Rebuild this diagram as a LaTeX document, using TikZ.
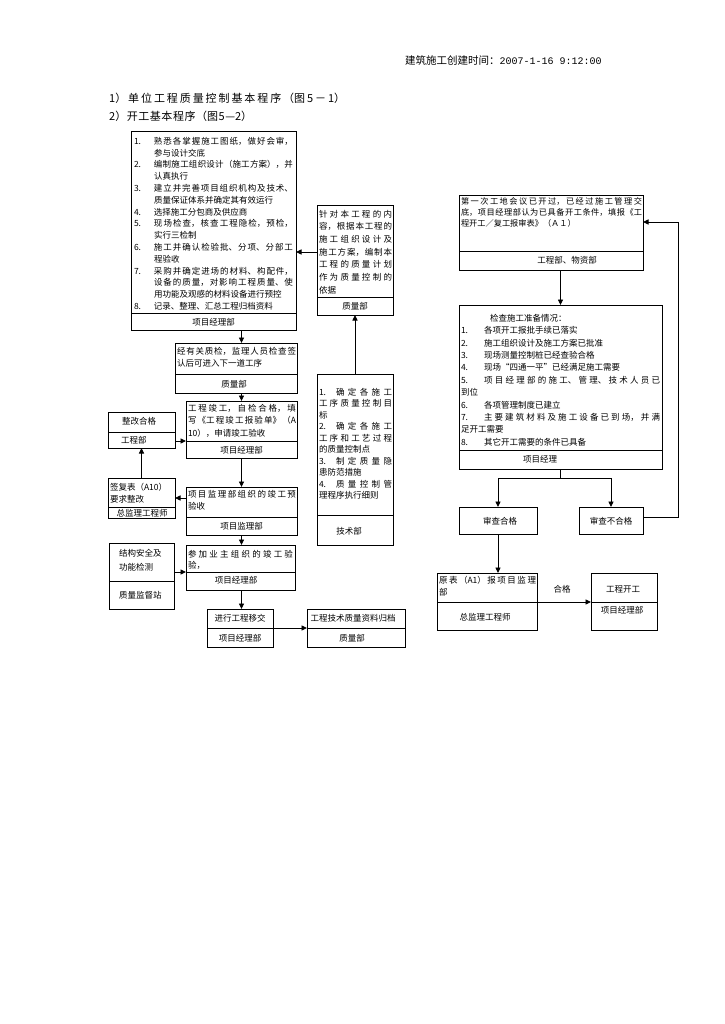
\documentclass[tikz,border=0pt]{standalone}
\usepackage{fontspec}
\setmainfont{Noto Sans CJK SC}
\newfontfamily\digfont{Liberation Mono}
\usetikzlibrary{arrows.meta}
\XeTeXlinebreaklocale "zh"
\XeTeXlinebreakskip=0pt plus 2pt
\hbadness=10000
\hfuzz=20pt
\lineskiplimit=-100pt
\newcommand\fs{\fontsize{8.5pt}{12.7pt}\selectfont\lineskiplimit=-100pt}
\newcommand\fsa{\fontsize{8.5pt}{11.8pt}\selectfont\lineskiplimit=-100pt}
\newcommand\fsc{\fontsize{8.5pt}{11.5pt}\selectfont\lineskiplimit=-100pt}
\newcommand\nb[1]{\makebox[20pt][l]{#1}}
\newcommand\nc[1]{\makebox[23pt][l]{#1}}
\tikzset{
  box/.style={draw, line width=0.8pt, inner sep=0pt, outer sep=0pt, anchor=north west},
  tx/.style={inner sep=0pt, outer sep=0pt, anchor=north west, align=justify, font=\fs},
  lab/.style={inner sep=0pt, font=\fs},
  hdr/.style={inner sep=0pt, anchor=north west, align=justify, font=\fontsize{11pt}{13pt}\selectfont},
  ln/.style={line width=0.8pt},
  arr/.style={line width=0.9pt, -{Triangle[length=5.5pt,width=5pt]}},
}
\begin{document}
\begin{tikzpicture}[x=1pt,y=-1pt]
\fill[white] (0,0) rectangle (724,1024);
\useasboundingbox (0,0) rectangle (724,1024);

% header
\node[anchor=west, inner sep=0pt, font=\fontsize{10.5pt}{12pt}\selectfont] (hd) at (405,60) {建筑施工创建时间：{\digfont\fontsize{10pt}{12pt}\selectfont 2007-1-16 9:12:00}};
\node[hdr, text width=236pt] (t1) at (109,92.5) {1）单位工程质量控制基本程序（图5－1）\linebreak\mbox{}};
\node[hdr, text width=143pt] (t2) at (109,110.5) {2）开工基本程序（图5—2）\linebreak\mbox{}};

% ---------- left chart ----------
% A
\node[box, minimum width=165pt, minimum height=199pt] (A) at (131,131) {};
\draw[ln] (A.west |- 0,313) -- (A.east |- 0,313);
\node[tx, text width=159pt, font=\fsa] (At) at (134,137) {%
\nb{1.}熟悉各掌握施工图纸，做好会审，\linebreak
\hspace*{20pt}参与设计交底\newline
\nb{2.}编制施工组织设计（施工方案），并\linebreak
\hspace*{20pt}认真执行\newline
\nb{3.}建立并完善项目组织机构及技术、\linebreak
\hspace*{20pt}质量保证体系并确定其有效运行\newline
\nb{4.}选择施工分包商及供应商\newline
\nb{5.}现场检查，核查工程隐检，预检，\linebreak
\hspace*{20pt}实行三检制\newline
\nb{6.}施工并确认检验批、分项、分部工\linebreak
\hspace*{20pt}程验收\newline
\nb{7.}采购并确定进场的材料、构配件，\linebreak
\hspace*{20pt}设备的质量，对影响工程质量、使\linebreak
\hspace*{20pt}用功能及观感的材料设备进行预控\newline
\nb{8.}记录、整理、汇总工程归档资料};
\node[lab] (Al) at (213.5,322) {项目经理部};

% B
\node[box, minimum width=76pt, minimum height=110pt] (B) at (317,205) {};
\draw[ln] (B.west |- 0,297) -- (B.east |- 0,297);
\node[tx, text width=73pt] (Bt) at (319,210) {针对本工程的内\linebreak 容，根据本工程的\linebreak 施工组织设计及\linebreak 施工方案，编制本\linebreak 工程的质量计划\linebreak 作为质量控制的\linebreak 依据};
\node[lab] (Bl) at (355,306) {质量部};

% C
\node[box, minimum width=76pt, minimum height=171pt] (C) at (317,374) {};
\draw[ln] (C.west |- 0,515) -- (C.east |- 0,515);
\node[tx, text width=73pt, font=\fsc] (Ct) at (319,388) {%
1.\hspace{10pt}确定各施工\linebreak
工序质量控制目\linebreak
标\newline
2.\hspace{10pt}确定各施工\linebreak
工序和工艺过程\linebreak
的质量控制点\newline
3.\hspace{10pt}制定质量隐\linebreak
患防范措施\newline
4.\hspace{10pt}质量控制管\linebreak
理程序执行细则};
\node[lab] (Cl) at (349,531) {技术部};

% D
\node[box, minimum width=122pt, minimum height=50pt] (D) at (175,343) {};
\draw[ln] (D.west |- 0,374) -- (D.east |- 0,374);
\node[tx, text width=119pt] (Dt) at (177,347) {经有关质检，监理人员检查签\linebreak 认后可进入下一道工序};
\node[lab] (Dl) at (234,384) {质量部};

% E
\node[box, minimum width=111pt, minimum height=57pt] (E) at (186,401) {};
\draw[ln] (E.west |- 0,441) -- (E.east |- 0,441);
\node[tx, text width=108pt] (Et) at (188,404) {工程竣工，自检合格，填\linebreak 写《工程竣工报验单》（A\linebreak 10），申请竣工验收};
\node[lab] (El) at (241.5,450) {项目经理部};

% F
\node[box, minimum width=67pt, minimum height=36pt] (F) at (108,412) {};
\draw[ln] (F.west |- 0,432) -- (F.east |- 0,432);
\node[lab, anchor=west] (Ft) at (122,421) {整改合格};
\node[lab, anchor=west] (Fl) at (121,440) {工程部};

% G
\node[box, minimum width=67pt, minimum height=40pt] (G) at (108,478) {};
\draw[ln] (G.west |- 0,507) -- (G.east |- 0,507);
\node[tx, text width=64pt, font=\fontsize{8.5pt}{12pt}\selectfont] (Gt) at (110,483) {签复表（A10）\newline 要求整改};
\node[lab] (Gl) at (142,513) {总监理工程师};

% H
\node[box, minimum width=111pt, minimum height=48pt] (H) at (186,487) {};
\draw[ln] (H.west |- 0,517) -- (H.east |- 0,517);
\node[tx, text width=108pt] (Ht) at (188,490) {项目监理部组织的竣工预\linebreak 验收};
\node[lab] (Hl) at (241.5,526) {项目监理部};

% I
\node[box, minimum width=109pt, minimum height=45pt] (I) at (186,545) {};
\draw[ln] (I.west |- 0,572) -- (I.east |- 0,572);
\node[tx, text width=105pt, font=\fsc] (It) at (188,550) {参加业主组织的竣工验\linebreak 验，};
\node[lab] (Il) at (236,580) {项目经理部};

% J
\node[box, minimum width=65pt, minimum height=66pt] (J) at (109,543) {};
\draw[ln] (J.west |- 0,581) -- (J.east |- 0,581);
\node[tx, text width=55pt, font=\fontsize{8.5pt}{14pt}\selectfont] (Jt) at (119,549) {结构安全及\newline 功能检测};
\node[lab, anchor=west] (Jl) at (119,595) {质量监督站};

% K
\node[box, minimum width=66pt, minimum height=38pt] (K) at (207,609) {};
\draw[ln] (K.west |- 0,628) -- (K.east |- 0,628);
\node[lab] (Kt) at (240,618) {进行工程移交};
\node[lab] (Kl) at (240,638) {项目经理部};

% L
\node[box, minimum width=98pt, minimum height=38pt] (L) at (307,609) {};
\draw[ln] (L.west |- 0,628) -- (L.east |- 0,628);
\node[lab] (Lt) at (353,618) {工程技术质量资料归档};
\node[lab] (Ll) at (352,638) {质量部};

% left connectors
\draw[arr] (B.west |- 0,252) -- (A.east |- 0,252);
\draw[arr] (C.north) -- (B.south);
\draw[arr] (A.south -| E.north) -- (D.north -| E.north);
\draw[arr] (D.south -| E.north) -- (E.north);
\draw[arr] (F.east |- 0,441) -- (E.west |- 0,441);
\draw[arr] (G.north) -- (G.north |- F.south);
\draw[arr] (E.south) -- (H.north);
\draw[arr] (H.west |- G.east) -- (G.east);
\draw[arr] (H.south) -- (H.south |- I.north);
\draw[arr] (J.east |- 0,572) -- (I.west |- 0,572);
\draw[arr] (I.south -| H.south) -- (K.north -| H.south);
\draw[arr] (K.east) -- (L.west);

% ---------- right chart ----------
% M
\node[box, minimum width=184pt, minimum height=75pt] (M) at (459,195) {};
\draw[ln] (M.west |- 0,251) -- (M.east |- 0,251);
\node[tx, text width=181pt, font=\fontsize{8.2pt}{10.8pt}\selectfont] (Mt) at (461,198) {第一次工地会议已开过，已经过施工管理交\linebreak 底，项目经理部认为已具备开工条件，填报《工\linebreak 程开工／复工报审表》（Ａ１）};
\node[lab] (Ml) at (567,260) {工程部、物资部};

% N
\node[box, minimum width=203pt, minimum height=164pt] (N) at (459,305) {};
\draw[ln] (N.west |- 0,450) -- (N.east |- 0,450);
\node[tx, text width=199pt, font=\fontsize{8.5pt}{12.4pt}\selectfont] (Nt) at (461,314) {%
\hspace*{29pt}检查施工准备情况：\newline
\nc{1.}各项开工报批手续已落实\newline
\nc{2.}施工组织设计及施工方案已批准\newline
\nc{3.}现场测量控制桩已经查验合格\newline
\nc{4.}现场“四通一平”已经满足施工需要\newline
\nc{5.}项目经理部的施工、管理、技术人员已\linebreak
到位\newline
\nc{6.}各项管理制度已建立\newline
\nc{7.}主要建筑材料及施工设备已到场，并满\linebreak
足开工需要\newline
\nc{8.}其它开工需要的条件已具备};
\node[lab] (Nl) at (540,459) {项目经理};

% O, P
\node[box, minimum width=78pt, minimum height=27pt] (O) at (459,507) {};
\node[lab] (Ot) at (500,521) {审查合格};
\node[box, minimum width=64pt, minimum height=27pt] (P) at (579,507) {};
\node[lab] (Pt) at (611,521) {审查不合格};

% Q
\node[box, minimum width=100pt, minimum height=57pt] (Q) at (437,573) {};
\draw[ln] (Q.west |- 0,602) -- (Q.east |- 0,602);
\node[tx, text width=97pt] (Qt) at (439,576) {原表（A1）报项目监理\linebreak 部};
\node[lab] (Ql) at (485,617) {总监理工程师};

% R
\node[box, minimum width=66pt, minimum height=57pt] (R) at (591,573) {};
\draw[ln] (R.west |- 0,602) -- (R.east |- 0,602);
\node[lab] (Rt) at (623,589) {工程开工};
\node[lab] (Rl) at (622,610) {项目经理部};

\node[lab] (ok) at (562,589) {合格};

% right connectors
\coordinate (nj) at (560.5,478);
\coordinate (rt) at (678,222);
\draw[arr] (N.north |- M.south) -- (N.north);
\draw[ln] (N.south) -- (nj);
\draw[arr] (nj) -| (O.north);
\draw[arr] (nj) -| (P.north);
\draw[arr] (P.east |- 0,517) -| (rt) -- (M.east |- rt);
\draw[arr] (O.south) -- (O.south |- Q.north);
\draw[arr] (Q.east |- 0,602) -- (R.west |- 0,602);
\end{tikzpicture}
\end{document}
